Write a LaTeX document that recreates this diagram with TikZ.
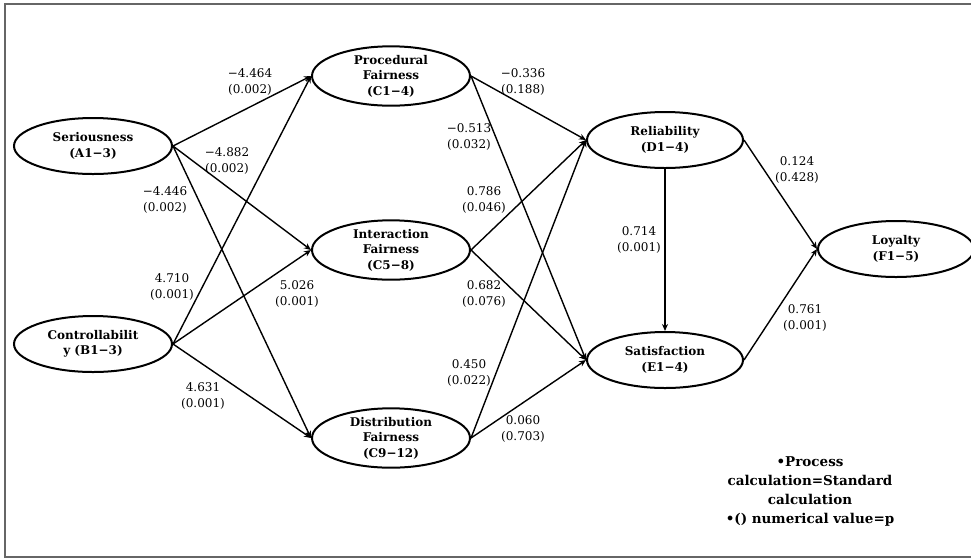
\documentclass[tikz,border=0pt]{standalone}
\usepackage{fontspec}
\setmainfont{DejaVu Serif}
\usetikzlibrary{arrows.meta,shapes.geometric}
\begin{document}
\begin{tikzpicture}[x=1pt,y=-1pt,
  var/.style={draw,line width=2pt,ellipse,minimum width=158pt,minimum height=56pt,inner sep=0pt,align=center,
    font=\fontsize{12pt}{15.5pt}\selectfont\bfseries},
  lbl/.style={align=center,inner sep=0pt,font=\fontsize{12pt}{15.5pt}\selectfont},
  path/.style={line width=1.4pt,-{Stealth[length=7pt,width=6pt]}},
  note/.style={align=center,inner sep=0pt,font=\fontsize{13.5pt}{19pt}\selectfont\bfseries}]
\useasboundingbox (0,0) rectangle (971,558);
\clip (0,0) rectangle (971,558);
\fill[white] (0,0) rectangle (971,558);
\draw[line width=2pt,black!60] (5,4) rectangle (990,557);

\node[var] (A) at (93,146) {Seriousness\\(A1−3)};
\node[var] (B) at (93,344) {Controllabilit\\y (B1−3)};
\node[var] (C1) at (391,76) {Procedural\\Fairness\\(C1−4)};
\node[var] (C2) at (391,250) {Interaction\\Fairness\\(C5−8)};
\node[var] (C3) at (391,438) {Distribution\\Fairness\\(C9−12)};
\node[var,minimum width=156pt] (D) at (665,140) {Reliability\\(D1−4)};
\node[var,minimum width=156pt] (E) at (665,360) {Satisfaction\\(E1−4)};
\node[var,minimum width=156pt] (F) at (896,249) {Loyalty\\(F1−5)};

\draw[path] (A.east) -- (C1.west);
\draw[path] (A.east) -- (C2.west);
\draw[path] (A.east) -- (C3.west);
\draw[path] (B.east) -- (C1.west);
\draw[path] (B.east) -- (C2.west);
\draw[path] (B.east) -- (C3.west);
\draw[path] (C1.east) -- (D.west);
\draw[path] (C1.east) -- (E.west);
\draw[path] (C2.east) -- (D.west);
\draw[path] (C2.east) -- (E.west);
\draw[path] (C3.east) -- (D.west);
\draw[path] (C3.east) -- (E.west);
\draw[path] (D.south) -- (E.north);
\draw[path] (D.east) -- (F.west);
\draw[path] (E.east) -- (F.west);

\node[lbl] (l1) at (250,82) {−4.464\\(0.002)};
\node[lbl] (l2) at (227,161) {−4.882\\(0.002)};
\node[lbl] (l3) at (165,200) {−4.446\\(0.002)};
\node[lbl] (l4) at (172,287) {4.710\\(0.001)};
\node[lbl] (l5) at (297,294) {5.026\\(0.001)};
\node[lbl] (l6) at (203,396) {4.631\\(0.001)};
\node[lbl] (l7) at (523,82) {−0.336\\(0.188)};
\node[lbl] (l8) at (469,137) {−0.513\\(0.032)};
\node[lbl] (l9) at (484,200) {0.786\\(0.046)};
\node[lbl] (l10) at (484,294) {0.682\\(0.076)};
\node[lbl] (l11) at (469,373) {0.450\\(0.022)};
\node[lbl] (l12) at (523,429) {0.060\\(0.703)};
\node[lbl] (l13) at (639,240) {0.714\\(0.001)};
\node[lbl] (l14) at (797,170) {0.124\\(0.428)};
\node[lbl] (l15) at (805,318) {0.761\\(0.001)};

\node[note] (n) at (810,491) {•Process\\calculation=Standard\\calculation\\•() numerical value=p};
\end{tikzpicture}
\end{document}
